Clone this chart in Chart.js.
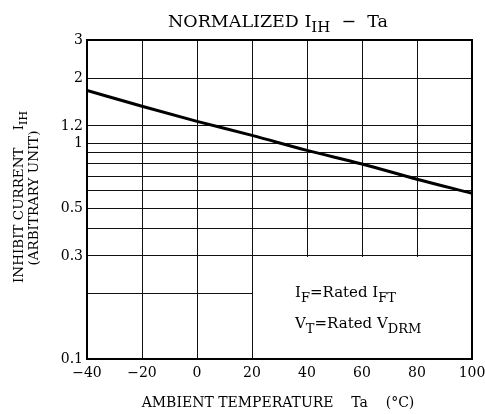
<!DOCTYPE html>
<html>
<head>
<meta charset="UTF-8">
<title>Normalized IIH - Ta</title>
<script src="https://cdn.jsdelivr.net/npm/chart.js"></script>
<style>
  body { margin: 0; background: #fff; }
  #wrap { width: 485px; height: 414px; position: relative; }
</style>
</head>
<body>
<div id="wrap"><canvas id="chart"></canvas></div>
<script>
  // data
  const temps = [-40, -20, 0, 20, 40, 60, 80, 100];
  const current = [1.75, 1.48, 1.26, 1.085, 0.925, 0.80, 0.68, 0.585];
  const xTicks = [-40, -20, 0, 20, 40, 60, 80, 100];
  const yGridValues = [0.1, 0.2, 0.3, 0.4, 0.5, 0.6, 0.7, 0.8, 0.9, 1, 1.2, 2, 3];
  const yTickLabels = [0.1, 0.3, 0.5, 1, 1.2, 2, 3];

  const FONT = '"DejaVu Serif", serif';

  // text with subscripts: parts = [[text, isSub], ...]
  function drawRich(ctx, parts, x, y, size, align) {
    const main = size + 'px ' + FONT;
    const sub = Math.round(size * 0.85) + 'px ' + FONT;
    let w = 0;
    parts.forEach(p => { ctx.font = p[1] ? sub : main; w += ctx.measureText(p[0]).width; });
    let cx = align === 'center' ? x - w / 2 : x;
    parts.forEach(p => {
      ctx.font = p[1] ? sub : main;
      ctx.fillText(p[0], cx, p[1] ? y + size * 0.3 : y);
      cx += ctx.measureText(p[0]).width;
    });
  }

  const boxPlugin = {
    id: 'box',
    beforeDatasetsDraw(chart) {
      const { ctx, scales: { x, y } } = chart;
      const x0 = x.getPixelForValue(20), y0 = y.getPixelForValue(0.3);
      ctx.save();
      ctx.fillStyle = '#fff';
      ctx.fillRect(Math.round(x0) + 1, Math.round(y0) + 1, x.right - x0, y.bottom - y0);
      ctx.restore();
    },
    afterDraw(chart) {
      const { ctx, chartArea: a } = chart;
      ctx.save();
      ctx.strokeStyle = '#000';
      ctx.lineWidth = 2;
      ctx.strokeRect(a.left, a.top, a.right - a.left, a.bottom - a.top);

      ctx.fillStyle = '#000';
      ctx.textBaseline = 'alphabetic';
      ctx.textAlign = 'left';
      drawRich(ctx, [['NORMALIZED I', 0], ['IH', 1], ['  \u2212  Ta', 0]], 278, 27, 17.5, 'center');
      drawRich(ctx, [['AMBIENT TEMPERATURE    Ta    (\u00B0C)', 0]], 278, 407, 14, 'center');

      drawRich(ctx, [['I', 0], ['F', 1], ['=Rated I', 0], ['FT', 1]], 295, 297, 15, 'left');
      drawRich(ctx, [['V', 0], ['T', 1], ['=Rated V', 0], ['DRM', 1]], 295, 328, 15, 'left');

      ctx.save();
      ctx.translate(23, 197);
      ctx.rotate(-Math.PI / 2);
      drawRich(ctx, [['INHIBIT CURRENT    I', 0], ['IH', 1]], 0, 0, 13.5, 'center');
      ctx.restore();
      ctx.save();
      ctx.translate(38, 198);
      ctx.rotate(-Math.PI / 2);
      drawRich(ctx, [['(ARBITRARY UNIT)', 0]], 0, 0, 13.5, 'center');
      ctx.restore();
      ctx.restore();
    }
  };

  new Chart(document.getElementById('chart'), {
    type: 'line',
    data: {
      datasets: [{
        data: temps.map((t, i) => ({ x: t, y: current[i] })),
        borderColor: '#000',
        borderWidth: 3,
        pointRadius: 0,
        cubicInterpolationMode: 'monotone',
        fill: false
      }]
    },
    options: {
      responsive: true,
      maintainAspectRatio: false,
      animation: false,
      layout: { padding: { left: 0, right: 13, top: 40, bottom: 0 } },
      plugins: { legend: { display: false }, tooltip: { enabled: false }, title: { display: false } },
      scales: {
        x: {
          type: 'linear',
          min: -40, max: 100,
          afterFit(s) { s.height = 55; s.paddingLeft = 0; s.paddingRight = 0; },
          afterBuildTicks(s) { s.ticks = xTicks.map(v => ({ value: v })); },
          grid: { color: '#111', lineWidth: 1, drawTicks: false },
          border: { display: false },
          ticks: {
            padding: 6,
            color: '#000',
            font: { family: FONT, size: 14 },
            maxRotation: 0,
            callback: v => (v < 0 ? '\u2212' + Math.abs(v) : String(v))
          }
        },
        y: {
          type: 'logarithmic',
          min: 0.1, max: 3,
          afterFit(s) { s.width = 87; s.paddingTop = 0; s.paddingBottom = 0; },
          afterBuildTicks(s) { s.ticks = yGridValues.map(v => ({ value: v })); },
          grid: { color: '#111', lineWidth: 1, drawTicks: false },
          border: { display: false },
          ticks: {
            padding: 4,
            color: '#000',
            autoSkip: false,
            font: { family: FONT, size: 14 },
            callback: v => (yTickLabels.includes(v) ? String(v) : '')
          }
        }
      }
    },
    plugins: [boxPlugin]
  });
</script>
</body>
</html>
